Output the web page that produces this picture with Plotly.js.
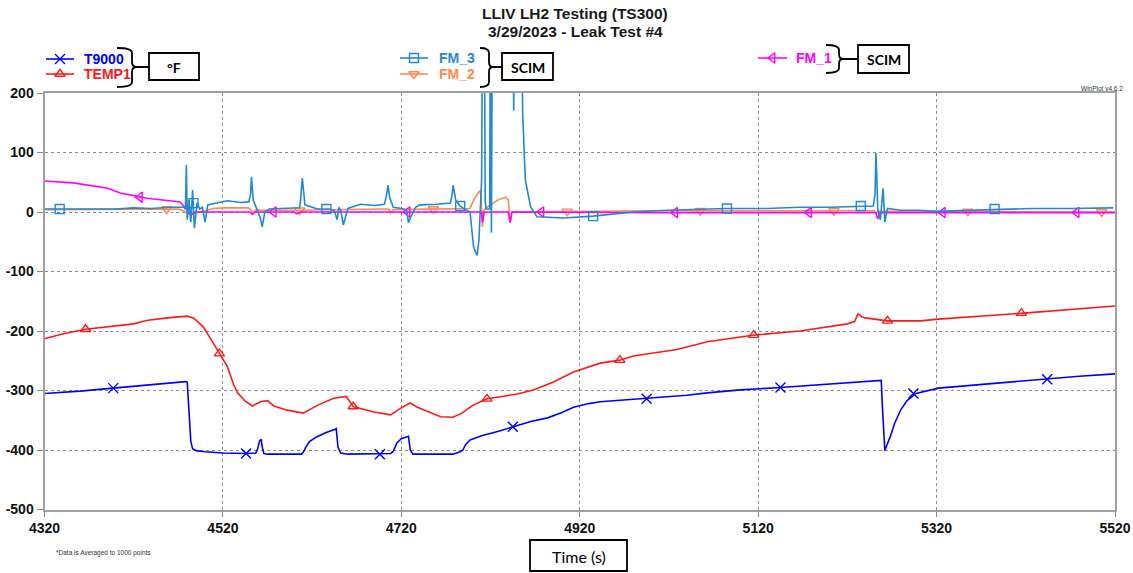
<!DOCTYPE html>
<html><head><meta charset="utf-8">
<script src="https://cdn.plot.ly/plotly-3.0.1.min.js"></script>
<style>html,body{margin:0;padding:0;background:#fff}#chart{width:1133px;height:573px}</style>
</head><body><div id="chart"></div>
<script>
// ---------------- data ----------------
const xTicks = [4320,4520,4720,4920,5120,5320,5520];
const xTickText = ['4320','4520','4720','4920','5120','5320','5520'];
const yTicks = [200,100,0,-100,-200,-300,-400,-500];
const yTickText = ['200','100','0','-100','-200','-300','-400','-500'];

const t9000T = [4320,4360,4397,4440,4478,4480,4482,4484,4486,4490,4500,4520,4546,4557,4559,4561,4563,4564,4566,4570,4608,4610,4613,4617,4625,4635,4646,4647,4649,4652,4660,4696,4708,4711,4715,4720,4726,4728,4730,4733,4778,4786,4789,4792,4797,4810,4830,4845,4865,4884,4900,4913,4930,4943,4970,4996,5040,5063,5100,5145,5180,5220,5258,5259,5261,5262,5264,5268,5273,5280,5287,5297,5322,5360,5400,5444,5480,5520];
const t9000V = [-305,-301,-296,-290,-285,-286,-330,-385,-398,-401,-403,-405,-406,-405,-398,-385,-382,-395,-406,-407,-407,-404,-395,-386,-378,-371,-365,-364,-395,-405,-407,-407,-406,-402,-388,-381,-377,-377,-400,-407,-407,-403,-400,-391,-383,-376,-368,-361,-352,-346,-337,-328,-322,-319,-316,-314,-308,-304,-299,-295,-291,-287,-283,-320,-380,-401,-393,-378,-355,-332,-317,-305,-296,-291,-286,-281,-276,-272];

const temp1T = [4320,4340,4366,4391,4420,4430,4436,4458,4480,4487,4498,4509,4516,4525,4532,4536,4545,4553,4562,4570,4577,4592,4610,4626,4644,4658,4662,4666,4689,4708,4719,4730,4738,4764,4778,4788,4800,4816,4850,4868,4890,4913,4943,4965,4980,5029,5063,5114,5167,5220,5228,5232,5236,5240,5265,5302,5322,5418,5520];
const temp1V = [-213,-205,-197,-193,-188,-184,-182,-178,-175,-178,-193,-220,-238,-260,-290,-303,-318,-326,-319,-317,-326,-333,-338,-325,-313,-310,-318,-327,-336,-341,-330,-321,-328,-344,-345,-338,-325,-314,-306,-299,-286,-269,-254,-249,-242,-231,-218,-207,-200,-188,-184,-171,-176,-178,-183,-183,-180,-170,-158];

const fm3T = [4320,4337,4350,4365,4380,4400,4420,4440,4460,4476,4478,4479,4480,4482,4484,4486,4488,4491,4494,4497,4500,4503,4509,4517,4525,4540,4549,4551,4552,4554,4558,4562,4564,4567,4572,4590,4606,4607,4609,4612,4626,4640,4645,4648,4650,4652,4655,4660,4674,4690,4701,4703,4705,4707,4711,4721,4726,4728,4730,4736,4741,4760,4775,4777,4778,4781,4786,4789,4797,4801,4805,4807,4810,4811,4812,4813,4814,4815,4816,4819,4820,4821,4822,4845,4846,4847,4855,4856,4859,4865,4872,4902,4935,4960,4980,5018,5050,5085,5130,5167,5200,5235,5249,5251,5252,5253,5254,5257,5260,5262,5265,5280,5300,5320,5355,5391,5428,5470,5518];
const fm3V = [5,5,6,5,6,5,7,6,8,8,5,79,-13,20,-17,37,-27,15,5,8,-17,12,14,17,19,16,17,30,59,20,5,-10,-25,0,5,6,7,20,57,12,5,5,2,-13,8,3,-22,6,13,11,13,25,45,24,8,6,3,-18,-10,8,12,13,15,30,45,20,10,7,0,-59,-73,-47,54,350,350,350,20,5,5,5,350,-35,350,350,170,350,350,166,54,8,-8,-10,-7,-3,0,3,4,6,6,8,8,10,10,30,99,60,5,-13,40,-17,6,3,3,1,3,5,6,6,7];

const fm2T = [4320,4400,4470,4476,4480,4484,4490,4500,4509,4520,4549,4551,4553,4556,4600,4700,4706,4708,4711,4797,4801,4805,4809,4810,4811,4812,4816,4828,4837,4840,4842,4844,4900,5000,5100,5250,5252,5254,5300,5520];
const fm2V = [4,4,5,2,-2,-4,-1,2,6,7,7,4,-2,3,3,5,5,-2,4,6,20,30,37,0,-25,2,8,20,25,20,-18,0,1,2,2,2,-3,1,1,0];

const fm1T = [4320,4352,4391,4405,4428,4435,4460,4472,4476,4480,4484,4487,4490,4550,4553,4556,4600,4603,4606,4700,4810,4811,4813,4840,4842,4844,5000,5252,5254,5256,5520];
const fm1V = [52,49,40,32,25,23,19,17,10,1,-6,-1,0,0,-4,0,0,-3,0,0,0,-18,0,0,-18,0,-1,-1,-12,-1,-1];

// sparse symbol positions (as drawn by WinPlot)
const t9000MarkT = [4397,4546,4696,4845,4995,5145,5294,5444];
const t9000MarkV = [-296,-406,-407,-361,-314,-295,-305,-281];
const temp1MarkT = [4366,4516,4666,4816,4965,5115,5265,5415];
const temp1MarkV = [-197,-238,-327,-314,-249,-207,-183,-170];
const fm3MarkT = [4337,4487,4636,4786,4935,5085,5235,5385];
const fm3MarkV = [5,15,5,10,-7,6,10,5];
const fm2MarkT = [4457,4606,4756,4906,5055,5205,5355,5505];
const fm2MarkV = [5,3,5,1,2,2,1,0];
const fm1MarkT = [4427,4577,4727,4877,5027,5177,5327,5477];
const fm1MarkV = [25,0,0,0,-1,-1,-1,-1];

// ---------------- styling ----------------
const W = 1133, H = 573;
const px = x => x / W, py = y => 1 - y / H;
const FONT = 'Liberation Sans, Arial, sans-serif';
const CAL = 'Lato, Carlito, Liberation Sans, sans-serif';
const C = {t9000:'#0000ff', temp1:'#ff1a1a', fm3:'#1f8ad2', fm2:'#ff8a4c', fm1:'#ff00ff'};

const series = [
  {name:'T9000', t:t9000T, v:t9000V, mt:t9000MarkT, mv:t9000MarkV, color:C.t9000, sym:'x-thin-open', ms:10},
  {name:'TEMP1', t:temp1T, v:temp1V, mt:temp1MarkT, mv:temp1MarkV, color:C.temp1, sym:'triangle-up-open', ms:9},
  {name:'FM_2', t:fm2T, v:fm2V, mt:fm2MarkT, mv:fm2MarkV, color:C.fm2, sym:'triangle-down-open', ms:9},
  {name:'FM_1', t:fm1T, v:fm1V, mt:fm1MarkT, mv:fm1MarkV, color:C.fm1, sym:'triangle-left-open', ms:9},
  {name:'FM_3', t:fm3T, v:fm3V, mt:fm3MarkT, mv:fm3MarkV, color:C.fm3, sym:'square-open', ms:9},
];

const traces = [];
series.forEach(s => {
  traces.push({type:'scatter', mode:'lines', x:s.t, y:s.v, name:s.name, xaxis:'x', yaxis:'y',
    line:{color:s.color, width:1.6}, hoverinfo:'skip'});
  traces.push({type:'scatter', mode:'markers', x:s.mt, y:s.mv, name:s.name+' sym', xaxis:'x', yaxis:'y',
    marker:{symbol:s.sym, size:s.ms, color:s.color, line:{color:s.color, width:1.4}}, hoverinfo:'skip'});
});

// legend entries (pixel layout in the header strip)
const legend = [
  {name:'T9000', color:C.t9000, sym:'x-thin-open', ms:10, x0:46, x1:74, y:59, tx:82},
  {name:'TEMP1', color:C.temp1, sym:'triangle-up-open', ms:9, x0:46, x1:74, y:74, tx:82},
  {name:'FM_3', color:C.fm3, sym:'square-open', ms:9, x0:400, x1:428, y:58, tx:437},
  {name:'FM_2', color:C.fm2, sym:'triangle-down-open', ms:9, x0:400, x1:428, y:74, tx:437},
  {name:'FM_1', color:C.fm1, sym:'triangle-left-open', ms:9, x0:758, x1:787, y:58, tx:794},
];
const annotations = [];
legend.forEach(l => {
  traces.push({type:'scatter', mode:'lines', x:[l.x0, l.x1], y:[l.y, l.y], xaxis:'x2', yaxis:'y2',
    line:{color:l.color, width:1.6}, hoverinfo:'skip'});
  traces.push({type:'scatter', mode:'markers', x:[(l.x0+l.x1)/2], y:[l.y], xaxis:'x2', yaxis:'y2',
    marker:{symbol:l.sym, size:l.ms, color:l.color, line:{color:l.color, width:1.4}}, hoverinfo:'skip'});
  annotations.push({xref:'paper', yref:'paper', x:px(l.tx), y:py(l.y), xanchor:'left', yanchor:'middle',
    showarrow:false, text:'<b>'+l.name+'</b>', font:{family:FONT, size:14, color:l.color}});
});

function brace(L, Cx, T, y0, ym, y1, stem) {
  const r = 5;
  const P = (x, y) => px(x) + ' ' + py(y);
  return 'M' + P(L, y0) + ' Q' + P(Cx, y0) + ' ' + P(Cx, y0 + r) + ' L' + P(Cx, ym - r) +
         ' Q' + P(Cx, ym) + ' ' + P(T, ym) + ' Q' + P(Cx, ym) + ' ' + P(Cx, ym + r) +
         ' L' + P(Cx, y1 - r) + ' Q' + P(Cx, y1) + ' ' + P(L, y1) +
         ' M' + P(T, ym) + ' L' + P(stem, ym);
}
function box(x0, x1, y0, y1) {
  return {type:'rect', xref:'paper', yref:'paper', x0:px(x0), x1:px(x1), y0:py(y1), y1:py(y0),
          line:{color:'#000', width:1.8}, fillcolor:'#fff'};
}
const shapes = [
  {type:'path', xref:'paper', yref:'paper', path:brace(117,132,137,48,67,87,149), line:{color:'#000', width:1.8}},
  box(149,199,53,80),
  {type:'path', xref:'paper', yref:'paper', path:brace(480,489,493,48,67,87,502), line:{color:'#000', width:1.8}},
  box(502,553,53,80),
  {type:'path', xref:'paper', yref:'paper', path:brace(826,839,843,45,59,73,858), line:{color:'#000', width:1.8}},
  box(858,909,45,73),
  box(530,627,540,571),
];

annotations.push(
  {xref:'paper', yref:'paper', x:px(575), y:py(13), showarrow:false, xanchor:'center', yanchor:'middle',
   text:'<b>LLIV LH2 Testing (TS300)</b>', font:{family:FONT, size:15.5, color:'#1a1a1a'}},
  {xref:'paper', yref:'paper', x:px(575), y:py(31), showarrow:false, xanchor:'center', yanchor:'middle',
   text:'<b>3/29/2023 - Leak Test #4</b>', font:{family:FONT, size:15.5, color:'#1a1a1a'}},
  {xref:'paper', yref:'paper', x:px(174), y:py(67), showarrow:false, xanchor:'center', yanchor:'middle',
   text:'<b>°F</b>', font:{family:CAL, size:14, color:'#000'}},
  {xref:'paper', yref:'paper', x:px(527.5), y:py(67), showarrow:false, xanchor:'center', yanchor:'middle',
   text:'<b>SCIM</b>', font:{family:CAL, size:14, color:'#000'}},
  {xref:'paper', yref:'paper', x:px(883.5), y:py(59), showarrow:false, xanchor:'center', yanchor:'middle',
   text:'<b>SCIM</b>', font:{family:CAL, size:14, color:'#000'}},
  {xref:'paper', yref:'paper', x:px(1125), y:py(89), showarrow:false, xanchor:'right', yanchor:'middle',
   text:'WinPlot v4.6.2', font:{family:FONT, size:6.5, color:'#333'}},
  {xref:'paper', yref:'paper', x:px(54), y:py(553), showarrow:false, xanchor:'left', yanchor:'middle',
   text:'*Data is Averaged to 1000 points', font:{family:FONT, size:6.5, color:'#333'}},
  {xref:'paper', yref:'paper', x:px(578.5), y:py(556), showarrow:false, xanchor:'center', yanchor:'middle',
   text:'Time (s)', font:{family:CAL, size:16, color:'#000'}}
);

const axisCommon = {
  ticks:'outside', tickcolor:'#888', showgrid:true, gridcolor:'#8a8a8a', griddash:'dot', gridwidth:1,
  showline:true, linecolor:'#a0a0a0', linewidth:2, mirror:true, zeroline:false, fixedrange:true,
  tickfont:{family:FONT, size:14, color:'#111', weight:'bold'}
};

const layout = {
  width:W, height:H, margin:{l:0, r:0, t:0, b:0, pad:0},
  paper_bgcolor:'#ffffff', plot_bgcolor:'rgba(0,0,0,0)', showlegend:false,
  font:{family:FONT, color:'#000'},
  xaxis:Object.assign({}, axisCommon, {domain:[px(44.5), px(1115)], range:[4320,5520], anchor:'y',
    tickmode:'array', tickvals:xTicks, ticktext:xTickText, ticklen:5}),
  yaxis:Object.assign({}, axisCommon, {domain:[py(509.5), py(93)], range:[-500,200], anchor:'x',
    tickmode:'array', tickvals:yTicks, ticktext:yTickText, ticklen:6}),
  xaxis2:{domain:[0,1], range:[0,W], visible:false, fixedrange:true, anchor:'y2'},
  yaxis2:{domain:[py(91),1], range:[91,0], visible:false, fixedrange:true, anchor:'x2'},
  shapes:shapes, annotations:annotations
};

Plotly.newPlot('chart', traces, layout, {staticPlot:true, displayModeBar:false});
</script>
</body></html>
